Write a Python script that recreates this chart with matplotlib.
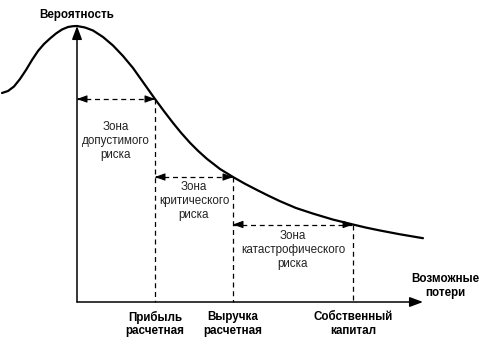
import matplotlib.pyplot as plt

plt.rcParams['font.family'] = ['Liberation Sans', 'DejaVu Sans']

# кривая вероятности потерь (ось X - потери, ось Y - вероятность)
loss = [-75, -69, -63, -57, -51, -45, -39, -33, -27, -21, -15, -9, -4, 0,
        8, 16, 26, 36, 46, 56, 67, 78, 87, 96, 104, 113, 121, 130, 143, 156,
        168, 180, 191, 203, 219, 236, 256, 276, 289, 303, 323, 346]
prob = [209, 211, 215.5, 223, 232, 242, 251, 258, 263.5, 268.5, 272.5, 275, 275.8, 276,
        274.5, 271.5, 265, 256.5, 246, 234, 218.5, 203, 190.8, 179.1, 169.3, 159.2, 151.2,
        143.1, 133, 125, 118.2, 112, 106.5, 100.8, 94, 88.4, 82.4, 77.5, 74.4, 71.5, 67.7, 63.8]

# границы зон риска
bounds = [0, 78, 156, 276]
bound_prob = [203, 125, 77.5]
zone_names = ["Зона\nдопустимого\nриска", "Зона\nкритического\nриска",
              "Зона\nкатастрофического\nриска"]
zone_text_x = [39, 117, 216]
zone_text_y = [161, 101, 52]
bound_labels = ["Прибыль\nрасчетная", "Выручка\nрасчетная", "Собственный\nкапитал"]

fig = plt.figure(figsize=(4.9, 3.38), dpi=100)
ax = fig.add_axes([0, 0, 1, 1])
ax.set_xlim(-77, 413)
ax.set_ylim(-36, 302)
ax.axis("off")

ax.plot(loss, prob, color="black", lw=1.6, solid_capstyle="round", solid_joinstyle="round")

# оси со стрелками
axis_arrow = dict(arrowstyle="-|>,head_length=0.8,head_width=0.3", color="black",
                  lw=1.1, shrinkA=0, shrinkB=0)
ax.annotate("", xy=(0, 276), xytext=(0, 0), arrowprops=axis_arrow)
ax.annotate("", xy=(346, 0), xytext=(0, 0), arrowprops=axis_arrow)

head = dict(arrowstyle="-|>,head_length=0.6,head_width=0.22", color="black",
            lw=0.8, shrinkA=0, shrinkB=0)
for i in range(3):
    x0, x1, y = bounds[i], bounds[i + 1], bound_prob[i]
    ax.plot([x0, x1], [y, y], color="black", lw=0.9, ls=(0, (4, 3)))
    ax.plot([x1, x1], [y, 0], color="black", lw=0.9, ls=(0, (4, 3)))
    ax.annotate("", xy=(x0, y), xytext=(x0 + 2, y), arrowprops=head)
    ax.annotate("", xy=(x1, y), xytext=(x1 - 2, y), arrowprops=head)
    ax.text(zone_text_x[i], zone_text_y[i], zone_names[i], ha="center", va="center",
            fontsize=8.4, color="#222222", linespacing=1.2)
    ax.text(x1, -22, bound_labels[i], ha="center", va="center",
            fontsize=8.4, fontweight="bold", linespacing=1.2)

ax.text(0, 287, "Вероятность", ha="center", va="center", fontsize=8.4, fontweight="bold")
ax.text(368, 16, "Возможные\nпотери", ha="center", va="center", fontsize=8.4,
        fontweight="bold", linespacing=1.2)

fig.savefig("out.png", dpi=100)
